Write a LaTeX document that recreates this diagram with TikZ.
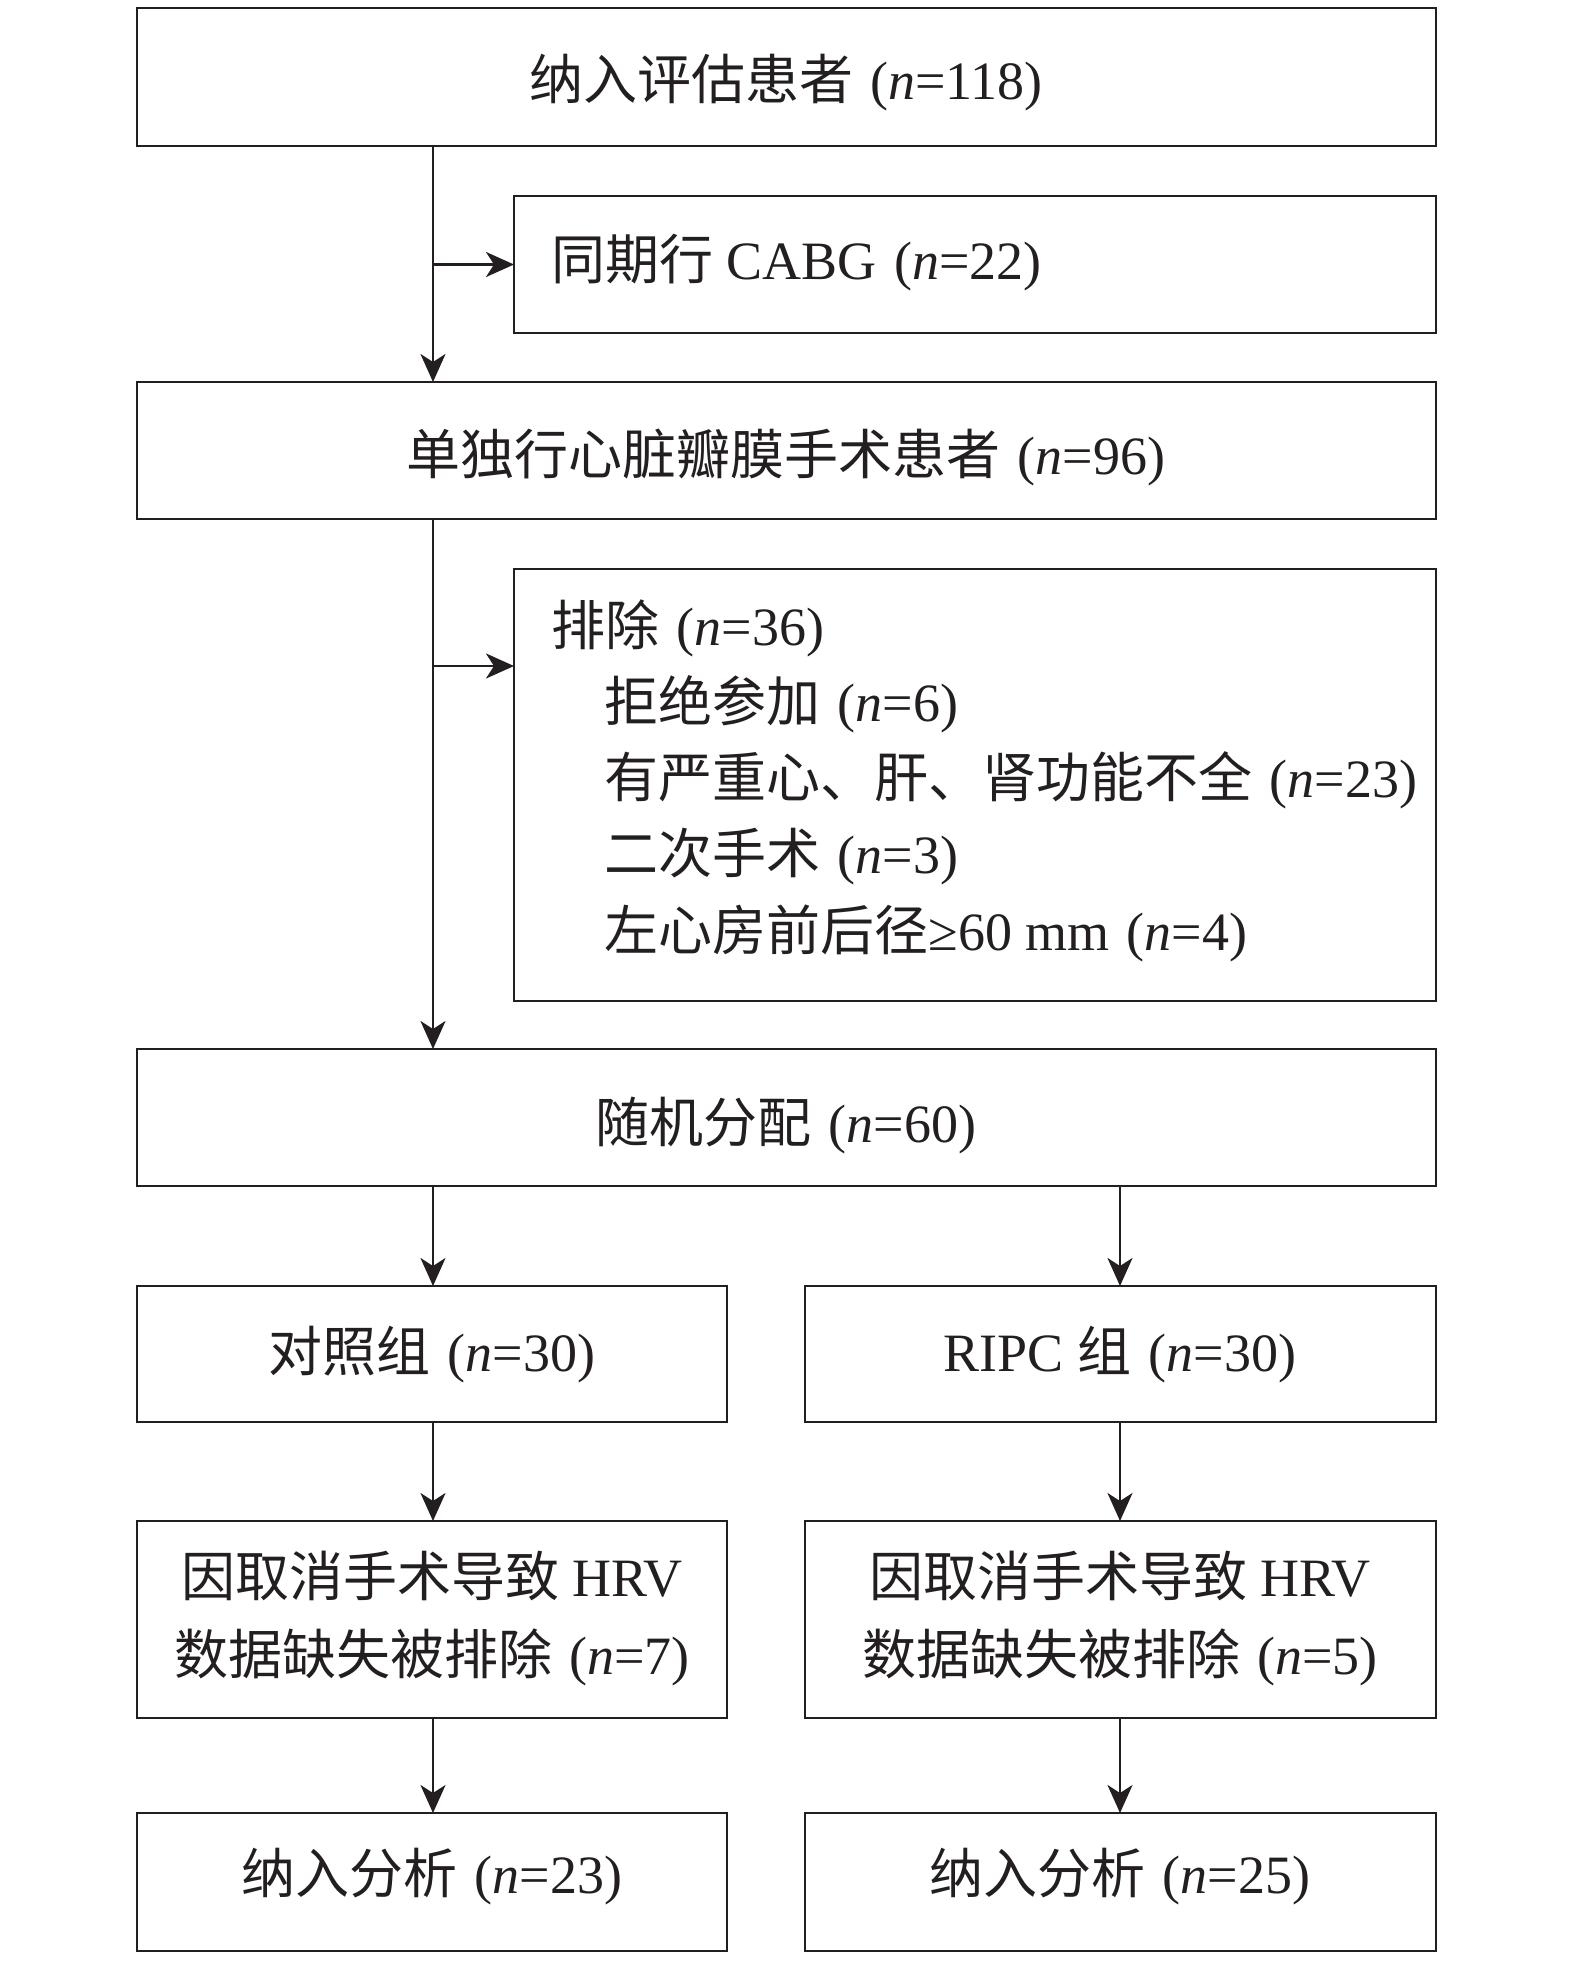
\documentclass[tikz,border=0pt]{standalone}
\usepackage{fontspec}
\setmainfont{Liberation Serif}
\newfontfamily\cjk{Noto Sans CJK SC}
\usetikzlibrary{arrows.meta,fit}
\definecolor{ink}{HTML}{231F20}
\newcommand{\ZH}[1]{{\cjk #1}}
\newcommand{\myLP}{\hspace{0.32em}(}
\newcommand{\myRP}{)}
\newcommand{\Nn}{\textit{n}}
\begin{document}
\begin{tikzpicture}[x=0.5pt,y=-0.5pt,
  box/.style={draw=ink, line width=1.3pt, inner sep=0pt, outer sep=0pt},
  lbl/.style={font=\fontsize{27}{37}\selectfont, text=ink, inner sep=0pt, anchor=base},
  lblw/.style={lbl, anchor=base west},
  arr/.style={draw=ink, line width=1.3pt, -{Stealth[length=14pt,width=12.5pt,inset=4pt]}}]
\useasboundingbox (0,0) rectangle (1575,1965);
\coordinate (tx) at (433,0);
\coordinate (rx) at (1120,0);
\coordinate (ej) at (433,666);

% boxes
\node[box, fit={(137,8) (1436,146)}] (top) {};
\node[box, fit={(514,196) (1436,333)}] (cabg) {};
\node[box, fit={(137,382) (1436,519)}] (single) {};
\node[box, fit={(514,569) (1436,1001)}] (excl) {};
\node[box, fit={(137,1049) (1436,1186)}] (rand) {};
\node[box, fit={(137,1286) (727,1422)}] (ctrl) {};
\node[box, fit={(805,1286) (1436,1422)}] (ripc) {};
\node[box, fit={(137,1521) (727,1718)}] (exL) {};
\node[box, fit={(805,1521) (1436,1718)}] (exR) {};
\node[box, fit={(137,1813) (727,1951)}] (anL) {};
\node[box, fit={(805,1813) (1436,1951)}] (anR) {};

% texts
\node[lbl] (topt) at (786,99) {\ZH{纳入评估患者}\myLP\Nn=118\myRP};
\node[lblw] (cabgt) at (551,279) {\ZH{同期行} CABG\myLP\Nn=22\myRP};
\node[lbl] (singlet) at (786,474) {\ZH{单独行心脏瓣膜手术患者}\myLP\Nn=96\myRP};
\node[lblw] (e1) at (551,645) {\ZH{排除}\myLP\Nn=36\myRP};
\node[lblw] (e2) at (604,721) {\ZH{拒绝参加}\myLP\Nn=6\myRP};
\node[lblw] (e3) at (604,797) {\ZH{有严重心、肝、肾功能不全}\myLP\Nn=23\myRP};
\node[lblw] (e4) at (604,873) {\ZH{二次手术}\myLP\Nn=3\myRP};
\node[lblw] (e5) at (604,950) {\ZH{左心房前后径}≥60 mm\myLP\Nn=4\myRP};
\node[lbl] (randt) at (786,1142) {\ZH{随机分配}\myLP\Nn=60\myRP};
\node[lbl] (ctrlt) at (432,1371) {\ZH{对照组}\myLP\Nn=30\myRP};
\node[lbl] (ripct) at (1120,1371) {RIPC \ZH{组}\myLP\Nn=30\myRP};
\node[lbl] (exLa) at (432,1596) {\ZH{因取消手术导致} HRV};
\node[lbl] (exLb) at (432,1674) {\ZH{数据缺失被排除}\myLP\Nn=7\myRP};
\node[lbl] (exRa) at (1120,1596) {\ZH{因取消手术导致} HRV};
\node[lbl] (exRb) at (1120,1674) {\ZH{数据缺失被排除}\myLP\Nn=5\myRP};
\node[lbl] (anLt) at (432,1893) {\ZH{纳入分析}\myLP\Nn=23\myRP};
\node[lbl] (anRt) at (1120,1893) {\ZH{纳入分析}\myLP\Nn=25\myRP};

% connectors
\draw[arr] (top.south -| tx) -- (single.north -| tx);
\draw[arr] (cabg.west -| tx) -- (cabg.west);
\draw[arr] (single.south -| tx) -- (rand.north -| tx);
\draw[arr] (ej) -- (excl.west |- ej);
\draw[arr] (rand.south -| tx) -- (ctrl.north -| tx);
\draw[arr] (rand.south -| rx) -- (ripc.north -| rx);
\draw[arr] (ctrl.south -| tx) -- (exL.north -| tx);
\draw[arr] (ripc.south -| rx) -- (exR.north -| rx);
\draw[arr] (exL.south -| tx) -- (anL.north -| tx);
\draw[arr] (exR.south -| rx) -- (anR.north -| rx);
\end{tikzpicture}
\end{document}
